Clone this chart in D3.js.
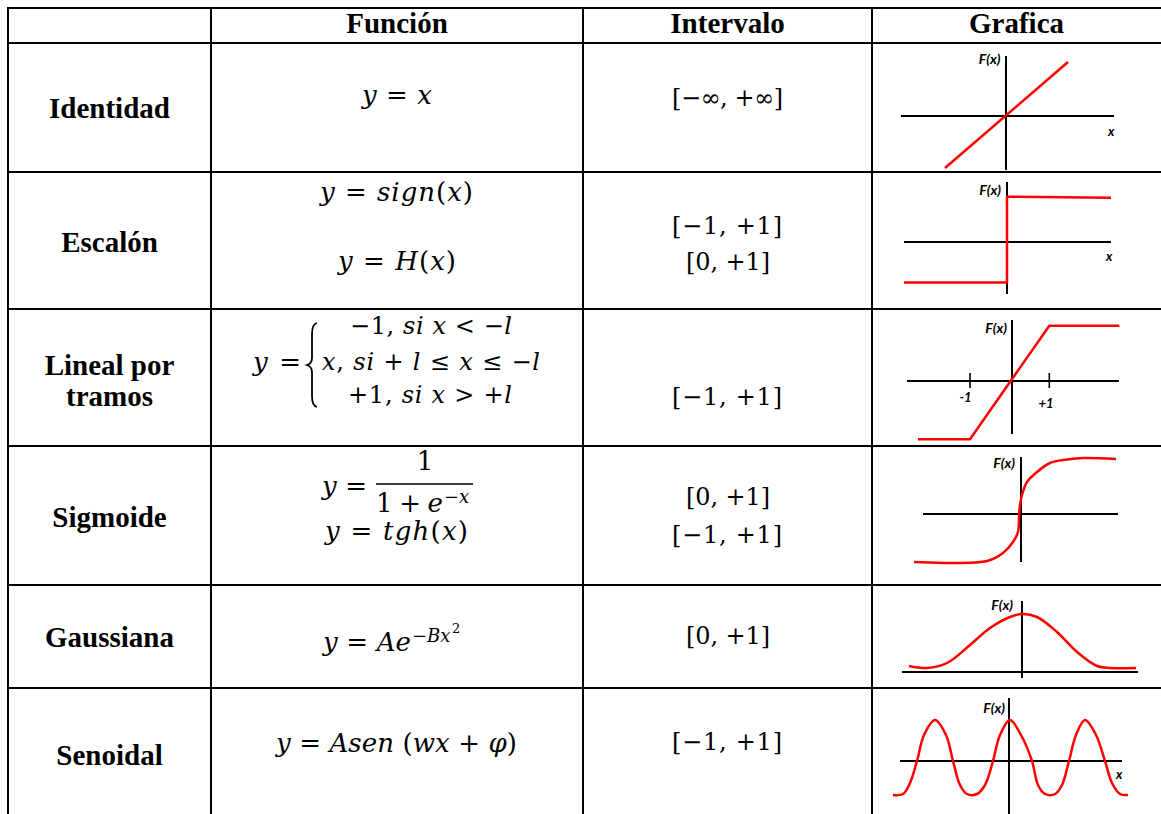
<!DOCTYPE html>
<html><head><meta charset="utf-8">
<script src="https://cdn.jsdelivr.net/npm/d3@7"></script>
<style>body{margin:0;background:#fff}svg{display:block}text{white-space:pre}</style>
</head><body><svg id="c" width="1161" height="814"></svg>
<script>
// ---------- content / data ----------
const headers = ["Función", "Intervalo", "Grafica"];
const rowNames = [["Identidad"], ["Escalón"], ["Lineal por", "tramos"], ["Sigmoide"], ["Gaussiana"], ["Senoidal"]];
const intervals = [["[−∞, +∞]"], ["[−1, +1]", "[0, +1]"], ["[−1, +1]"], ["[0, +1]", "[−1, +1]"], ["[0, +1]"], ["[−1, +1]"]];
// formulas: text in {} is italic
const fIdentidad = "{y} = {x}";
const fSign = "{y} = {sign}({x})";
const fHeaviside = "{y} = {H}({x})";
const fPieceLead = "{y} =";
const fPieceLines = ["−1, {si x} < −{l}", "{x}, {si} + {l} ≤ {x} ≤ −{l}", "+1, {si x} > +{l}"];
const fSigLead = "{y} =";
const fSigNum = "1";
const fSigDen = "1 + {e}";
const fSigSup = "−{x}";
const fTanh = "{y} = {tgh}({x})";
const fGaussBase = "{y} = {Ae}";
const fGaussSup = "−{Bx}";
const fGaussSup2 = "2";
const fSeno = "{y} = {Asen} ({wx} + {φ})";

// curves, in graph units (origin at the axis crossing, y up)
const identidadPts = [[-6.1, -5.2], [6.2, 5.4]];
const escalonPts = [[-10.3, -4.05], [0, -4.05], [0, 4.53], [10.4, 4.43]];
const linealPts = [[-9.4, -5.83], [-4.2, -5.83], [3.73, 5.53], [10.73, 5.53]];
const linealTicks = [-4.2, 3.73];
const linealTickLabels = ["-1", "+1"];
const sigmoidePts = [[-10.7, -4.8], [-3.4, -4.7], [-1.8, -3.9], [-0.8, -2.8], [-0.3, -1.8], [-0.2, -0.4], [-0.1, 0.9], [0.1, 1.9], [0.6, 3.2], [1.6, 4.2], [2.9, 5.1], [4.2, 5.4], [6.2, 5.6], [9.5, 5.5]];
const gaussPts = [[-11.3, 0.6], [-9.5, 0.4], [-7.5, 0.9], [-5.2, 2.7], [-3.2, 4.4], [-1.2, 5.5], [0, 5.8], [1.5, 5.5], [3.5, 4.0], [5.5, 2.0], [7.5, 0.6], [8.8, 0.4], [11.4, 0.4]];
const senoPts = [[-11.6, -3.4], [-10.6, -3.3], [-9.9, -2.2], [-9.2, 0], [-8.5, 2.6], [-7.4, 4.1], [-6.3, 2.6], [-5.6, 0], [-4.9, -2.4], [-4.2, -3.3], [-3.2, -3.3], [-2.4, -2.4], [-1.6, 0], [-0.9, 2.6], [0.1, 4.1], [1.2, 2.6], [2.3, 0], [2.9, -2.4], [3.6, -3.3], [4.6, -3.3], [5.3, -2.4], [6.0, 0], [6.7, 2.6], [7.6, 4.1], [8.7, 2.6], [9.6, 0], [10.3, -2.2], [11.1, -3.3], [11.9, -3.4]];

// ---------- layout ----------
const colX = [8, 211, 583, 872];
const rowY = [8, 43, 172, 309, 446, 585, 688];
const W = 1161, H = 814;
const MATH = "'DejaVu Serif', serif";
const LBL = "'Liberation Serif', 'Times New Roman', serif";
const GLBL = "Lato, 'Liberation Sans', sans-serif";

const svg = d3.select("#c");
svg.append("rect").attr("width", W).attr("height", H).attr("fill", "#fff");

// grid lines
const grid = svg.append("g").attr("stroke", "#000").attr("stroke-width", 2);
rowY.forEach(y => grid.append("line").attr("x1", 7).attr("x2", W).attr("y1", y).attr("y2", y));
colX.forEach(x => grid.append("line").attr("x1", x).attr("x2", x).attr("y1", 7).attr("y2", H));

// headers
const colCenters = [(colX[1] + colX[2]) / 2, (colX[2] + colX[3]) / 2, (colX[3] + W) / 2];
headers.forEach((h, i) => svg.append("text").attr("x", colCenters[i]).attr("y", 33)
  .attr("text-anchor", "middle").attr("font-family", LBL).attr("font-weight", "bold")
  .attr("font-size", 29).text(h));

// row labels
const labelBase = [[118], [252], [375, 406], [527], [647], [765]];
rowNames.forEach((lines, r) => lines.forEach((t, k) =>
  svg.append("text").attr("x", (colX[0] + colX[1]) / 2).attr("y", labelBase[r][k])
    .attr("text-anchor", "middle").attr("font-family", LBL).attr("font-weight", "bold")
    .attr("font-size", 29).text(t)));

// math text helper
function mathText(str, left, base, width, size, upright) {
  const t = svg.append("text").attr("x", left).attr("y", base)
    .attr("font-family", MATH).attr("font-size", size || 26).attr("fill", "#000");
  const re = /\{([^}]*)\}|([^{]+)/g;
  let m;
  while ((m = re.exec(str)) !== null) {
    if (m[1] !== undefined) t.append("tspan").attr("font-style", upright ? "normal" : "italic").text(m[1]);
    else t.append("tspan").attr("font-style", "normal").text(m[2]);
  }
  if (width) t.attr("textLength", width).attr("lengthAdjust", "spacing");
  return t;
}

// intervals
const intervalPlace = [[[672, 106]], [[672, 234], [686, 270]], [[672, 405]],
  [[686, 505], [672, 543]], [[686, 644]], [[672, 750]]];
intervals.forEach((lines, r) => lines.forEach((s, k) => {
  const p = intervalPlace[r][k];
  const w = s.includes("∞") ? 111 : (s.includes("−") ? 110 : 84);
  mathText(s, p[0], p[1], w, 24, true);
}));

// formulas
mathText(fIdentidad, 362, 104, 70);
mathText(fSign, 320, 201, 153);
mathText(fHeaviside, 338, 270, 118);
mathText(fPieceLead, 253, 371, 48);
// brace
(function brace(x, top, bot) {
  const mid = (top + bot) / 2, p = d3.path();
  p.moveTo(x + 8, top);
  p.bezierCurveTo(x + 4, top + 1, x + 3, top + 5, x + 3, top + 11);
  p.lineTo(x + 3, mid - 7);
  p.bezierCurveTo(x + 3, mid - 3, x + 1, mid - 1, x - 2, mid);
  p.bezierCurveTo(x + 1, mid + 1, x + 3, mid + 3, x + 3, mid + 7);
  p.lineTo(x + 3, bot - 11);
  p.bezierCurveTo(x + 3, bot - 5, x + 4, bot - 1, x + 8, bot);
  svg.append("path").attr("d", p.toString()).attr("fill", "none").attr("stroke", "#000").attr("stroke-width", 1.8);
})(309, 323, 407);
const pieceLeft = [350, 322, 348], pieceBase = [334, 370, 403], pieceW = [162, 218, 164];
fPieceLines.forEach((s, i) => mathText(s, pieceLeft[i], pieceBase[i], pieceW[i], 24));

mathText(fSigLead, 322, 495, 45);
mathText(fSigNum, 425, 470, null).attr("text-anchor", "middle");
svg.append("line").attr("x1", 376).attr("x2", 473).attr("y1", 484).attr("y2", 484).attr("stroke", "#000").attr("stroke-width", 1.6);
mathText(fSigDen, 376, 512, 67);
mathText(fSigSup, 444, 503, null, 18);
mathText(fTanh, 325, 540, 143);

mathText(fGaussBase, 323, 651, 88);
const gSup = mathText(fGaussSup, 412, 642, null, 18);
const gSupEnd = 412 + gSup.node().getComputedTextLength();
mathText(fGaussSup2, gSupEnd + 1.5, 633, null, 13);

mathText(fSeno, 276, 752, 241);

// ---------- mini graphs ----------
const graphs = [
  { ox: 1006, oy: 116, xAxis: [-10.5, 10.8], yAxis: [-5.4, 6.0], pts: identidadPts, smooth: false, fx: [-0.55, 5.2], xl: [10.2, -2.0] },
  { ox: 1007, oy: 242, xAxis: [-10.3, 10.4], yAxis: [-5.2, 6.0], pts: escalonPts, smooth: false, fx: [-0.6, 4.7], xl: [9.9, -1.9] },
  { ox: 1012, oy: 381, xAxis: [-10.5, 10.7], yAxis: [-5.3, 6.1], pts: linealPts, smooth: false, fx: [-0.5, 4.8], ticks: linealTicks, tickLabels: linealTickLabels, tickLabelPos: [[-4.65, -2.1], [3.4, -2.7]] },
  { ox: 1021, oy: 514, xAxis: [-9.8, 9.7], yAxis: [-4.8, 5.7], pts: sigmoidePts, smooth: true, fx: [-0.6, 4.6] },
  { ox: 1022, oy: 672, xAxis: [-12.0, 11.6], yAxis: [-0.6, 7.1], pts: gaussPts, smooth: true, fx: [-0.9, 6.2] },
  { ox: 1009, oy: 761, xAxis: [-10.9, 11.3], yAxis: [-5.4, 6.3], pts: senoPts, smooth: true, fx: [-0.4, 4.8], xl: [10.7, -1.8] }
];

graphs.forEach(gd => {
  const x = d3.scaleLinear().domain([0, 1]).range([gd.ox, gd.ox + 10]);
  const y = d3.scaleLinear().domain([0, 1]).range([gd.oy, gd.oy - 10]);
  const g = svg.append("g");
  g.append("line").attr("x1", x(gd.xAxis[0])).attr("x2", x(gd.xAxis[1])).attr("y1", y(0)).attr("y2", y(0))
    .attr("stroke", "#000").attr("stroke-width", 2);
  g.append("line").attr("x1", x(0)).attr("x2", x(0)).attr("y1", y(gd.yAxis[0])).attr("y2", y(gd.yAxis[1]))
    .attr("stroke", "#000").attr("stroke-width", 2);
  if (gd.ticks) {
    gd.ticks.forEach(t => g.append("line").attr("x1", x(t)).attr("x2", x(t)).attr("y1", y(0.8)).attr("y2", y(-0.7))
      .attr("stroke", "#000").attr("stroke-width", 1.6));
    gd.tickLabels.forEach((s, i) => g.append("text").attr("x", x(gd.tickLabelPos[i][0])).attr("y", y(gd.tickLabelPos[i][1]))
      .attr("text-anchor", "middle").attr("font-family", GLBL).attr("font-weight", "bold").attr("font-style", "italic")
      .attr("font-size", 13).text(s));
  }
  const line = d3.line().x(d => x(d[0])).y(d => y(d[1]))
    .curve(gd.smooth ? d3.curveCatmullRom.alpha(0.5) : d3.curveLinear);
  g.append("path").attr("d", line(gd.pts)).attr("fill", "none").attr("stroke", "#ff0000")
    .attr("stroke-width", 2.5).attr("stroke-linejoin", "round").attr("stroke-linecap", "butt");
  g.append("text").attr("x", x(gd.fx[0])).attr("y", y(gd.fx[1])).attr("text-anchor", "end")
    .attr("font-family", GLBL).attr("font-weight", "bold").attr("font-style", "italic").attr("font-size", 14).text("F(x)");
  if (gd.xl) g.append("text").attr("x", x(gd.xl[0])).attr("y", y(gd.xl[1]))
    .attr("font-family", GLBL).attr("font-weight", "bold").attr("font-style", "italic").attr("font-size", 13).text("x");
});
</script></body></html>
